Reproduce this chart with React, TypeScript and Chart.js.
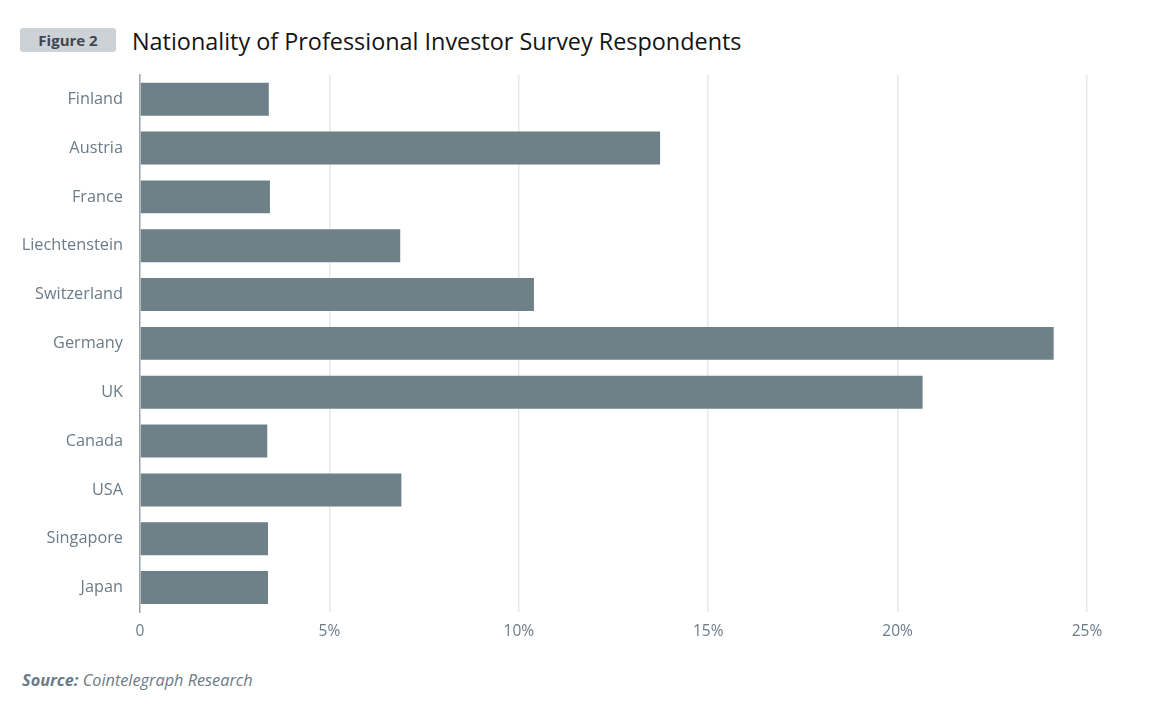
import React, { useEffect, useRef } from "react";
import { Chart, registerables } from "chart.js";

Chart.register(...registerables);

const categories = ["Finland", "Austria", "France", "Liechtenstein", "Switzerland", "Germany", "UK", "Canada", "USA", "Singapore", "Japan"];
const shares = [3.4, 13.73, 3.43, 6.87, 10.4, 24.12, 20.66, 3.36, 6.9, 3.38, 3.38];
const xTicks = [0, 5, 10, 15, 20, 25];
const titleText = "Nationality of Professional Investor Survey Respondents";
const badgeText = "Figure 2";
const sourceLabel = "Source:";
const sourceText = "Cointelegraph Research";

const FONT = "'Open Sans', 'Noto Sans', sans-serif";
const LABEL = "#6b7b88";

export default function App() {
  const ref = useRef<HTMLCanvasElement | null>(null);
  useEffect(() => {
    if (!ref.current) return;
    const chart = new Chart(ref.current, {
      type: "bar",
      data: {
        labels: categories,
        datasets: [
          {
            data: shares,
            backgroundColor: "#6e8088",
            barPercentage: 0.675,
            categoryPercentage: 1,
          },
        ],
      },
      options: {
        indexAxis: "y",
        animation: false,
        responsive: false,
        maintainAspectRatio: false,
        layout: { padding: { top: 3, right: 65, left: 0, bottom: 0 } },
        plugins: { legend: { display: false }, tooltip: { enabled: false } },
        scales: {
          x: {
            min: 0,
            max: 25,
            afterBuildTicks: (s: any) => {
              s.ticks = xTicks.map((v) => ({ value: v }));
            },
            afterFit: (s: any) => {
              s.height = 48;
            },
            border: { display: false },
            grid: {
              color: (ctx: any) => (ctx.tick && ctx.tick.value === 0 ? "rgba(0,0,0,0)" : "#e8e8e8"),
              lineWidth: 1.5,
              drawTicks: false,
            },
            ticks: {
              padding: 10,
              color: LABEL,
              font: { family: FONT, size: 15.5 },
              callback: (v: any) => (Number(v) === 0 ? "0" : v + "%"),
            },
          },
          y: {
            afterFit: (s: any) => {
              s.width = 140;
            },
            border: { display: true, color: "#9aa4aa", width: 1.5 },
            grid: { display: false, drawTicks: false },
            ticks: {
              padding: 17,
              color: LABEL,
              font: { family: FONT, size: 16.3 },
            },
          },
        },
      },
    });
    return () => chart.destroy();
  }, []);

  return (
    <div style={{ position: "absolute", left: 0, top: 0, width: 1152, height: 708, background: "#fff", fontFamily: FONT }}>
      <div
        style={{
          position: "absolute",
          left: 20,
          top: 28,
          width: 96,
          height: 24,
          background: "#cdd2d6",
          borderRadius: 3,
          color: "#3d4852",
          fontWeight: 700,
          fontSize: 15,
          lineHeight: "24px",
          textAlign: "center",
        }}
      >
        {badgeText}
      </div>
      <div
        style={{
          position: "absolute",
          left: 132,
          top: 24,
          fontSize: 23.4,
          lineHeight: "34px",
          color: "#141414",
          whiteSpace: "nowrap",
        }}
      >
        {titleText}
      </div>
      <canvas ref={ref} width={1152} height={612} style={{ position: "absolute", left: 0, top: 48, width: 1152, height: 612 }} />
      <div
        style={{
          position: "absolute",
          left: 22,
          top: 668,
          fontSize: 16.3,
          lineHeight: "24px",
          color: "#6b7b88",
          fontStyle: "italic",
          whiteSpace: "nowrap",
        }}
      >
        <span style={{ fontWeight: 700 }}>{sourceLabel}</span> {sourceText}
      </div>
    </div>
  );
}
